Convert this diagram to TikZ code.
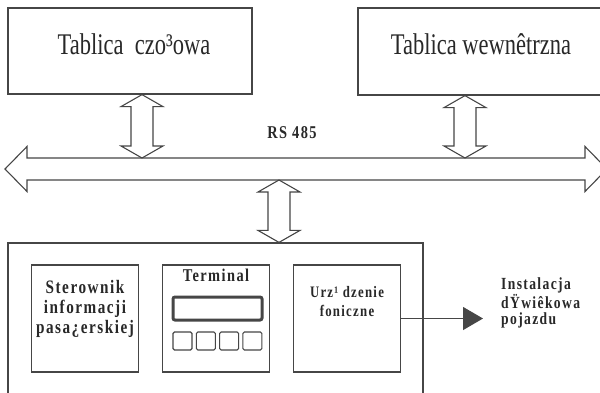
\documentclass[tikz,border=0pt]{standalone}
\usepackage{fontspec}
\setmainfont{Liberation Serif}
\newfontfamily\tablicafont[FakeStretch=0.75]{Liberation Serif}
\newfontfamily\modulfont[FakeStretch=0.8,LetterSpace=8]{Liberation Serif}
\usetikzlibrary{arrows.meta}
\usetikzlibrary{calc}
\definecolor{linia}{RGB}{70,70,70}
\definecolor{tekst}{RGB}{40,40,40}

% pusta strzalka dwustronna (pionowa), #1 gora, #2 dol
\newcommand{\strzalka}[2]{%
  \draw[szyna] let \p1=(#1), \p2=(#2) in
    (\x1,\y1) -- (\x1+21pt,\y1-12pt) -- (\x1+11pt,\y1-12pt)
    -- (\x2+11pt,\y2+12pt) -- (\x2+21pt,\y2+12pt) -- (\x2,\y2)
    -- (\x2-21pt,\y2+12pt) -- (\x2-11pt,\y2+12pt)
    -- (\x1-11pt,\y1-12pt) -- (\x1-21pt,\y1-12pt) -- cycle;}

\begin{document}
\begin{tikzpicture}[x=1pt,y=-1pt,
    tablica/.style={draw=linia,line width=1.2pt,minimum height=86pt},
    napis/.style={text=tekst,font=\tablicafont\fontsize{30}{32}\selectfont},
    blok/.style={draw=linia,line width=1.2pt,minimum width=107pt,minimum height=107pt},
    opis/.style={text=tekst,align=center,font=\modulfont\bfseries\fontsize{19}{20}\selectfont},
    szyna/.style={draw=linia,line width=1.1pt,line join=miter},
    ekran/.style={draw=linia,line width=3pt,rounded corners=2pt},
    klawisz/.style={draw=linia,line width=1.1pt,rounded corners=1.5pt},
    wyjscie/.style={draw=linia,line width=1.2pt,-{Triangle[length=20pt,width=23pt]},shorten >=18pt}]
    \fill[white] (0,0) rectangle (600,392);
    \useasboundingbox (0,0) rectangle (600,392);

    % tablice
    \node[tablica,minimum width=244pt,
          label={[napis,yshift=7pt,xshift=4pt]center:Tablica\ \ czo³owa}] (czolo) at (130,51) {};
    \node[tablica,minimum width=254pt,minimum height=87pt,
          label={[napis,yshift=7pt,xshift=-4pt]center:Tablica wewnêtrzna}] (wewn) at (485,51.5) {};

    % szyna RS 485
    \coordinate (szynaG) at (0,158);
    \coordinate (szynaD) at (0,180);
    \draw[szyna] (5,169) -- (27,146.5) -- (27,158) -- (585,158) -- (585,146.5)
        -- (607,169) -- (585,191.5) -- (585,180) -- (27,180) -- (27,191.5) -- cycle;
    \node[opis,font=\modulfont\bfseries\fontsize{18}{18}\selectfont] (rs) at (292,133) {RS 485};

    % sterownik pojazdu
    \node[draw=linia,line width=1.2pt,minimum width=415pt,minimum height=157pt] (modul) at (215.5,321.5) {};
    \node[blok,label={[opis,yshift=9.5pt]center:Sterownik\\informacji\\pasa¿erskiej}] (ster) at (85,318.5) {};
    \node[blok,label={[opis,anchor=north,yshift=-1pt,font=\modulfont\bfseries\fontsize{18}{18}\selectfont]north:Terminal}] (term) at (216,318.5) {};
    \node[blok,label={[opis,yshift=16.5pt,font=\modulfont\bfseries\fontsize{16}{19}\selectfont]center:Urz¹ dzenie\\foniczne}] (urz) at (347,318.5) {};

    % terminal: ekran i klawisze
    \draw[ekran] (173,297) rectangle (262,320);
    \foreach \i in {0,...,3}
        \draw[klawisz] ({173+23.3*\i},332) rectangle ++(19,18);

    % polaczenia z szyna
    \coordinate (lewyG) at ($(czolo.south)+(12,0)$);
    \coordinate (lewyD) at (lewyG |- szynaG);
    \coordinate (prawyG) at ($(wewn.south)+(-20,0)$);
    \coordinate (prawyD) at (prawyG |- szynaG);
    \coordinate (srodD) at ($(modul.north)+(63.5,0)$);
    \coordinate (srodG) at (srodD |- szynaD);
    \strzalka{lewyG}{lewyD}
    \strzalka{prawyG}{prawyD}
    \strzalka{srodG}{srodD}

    % wyjscie audio
    \node[opis,anchor=west,align=left,inner sep=0pt,
          font=\modulfont\bfseries\fontsize{17}{16.5}\selectfont] (instal) at (501,303) {Instalacja\\dŸwiêkowa\\pojazdu};
    \draw[wyjscie] (urz.east) -- (urz.east -| instal.west);
\end{tikzpicture}
\end{document}
